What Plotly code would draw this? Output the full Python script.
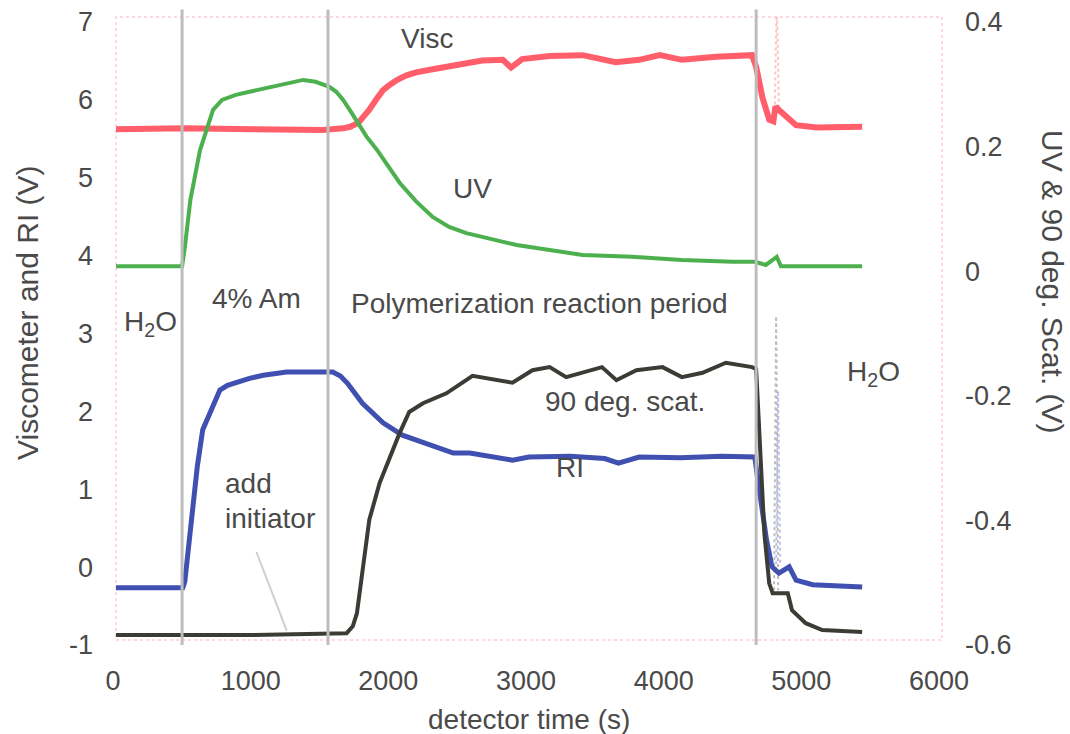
import plotly.graph_objects as go

# ---- data (detector time in s) ----
# Viscometer signal, left axis (V)
visc_t = [0, 500, 1000, 1500, 1650, 1700, 1760, 1800, 1840, 1890, 1940, 1990, 2040, 2110, 2180,
          2300, 2420, 2540, 2660, 2810, 2870, 2950, 3150, 3390, 3630, 3800, 3950, 4110, 4360,
          4620, 4650, 4695, 4745, 4775, 4790, 4820, 4870, 4940, 5090, 5420]
visc_v = [5.56, 5.57, 5.56, 5.55, 5.57, 5.59, 5.64, 5.72, 5.81, 5.94, 6.06, 6.13, 6.19, 6.25,
          6.29, 6.33, 6.37, 6.41, 6.44, 6.45, 6.35, 6.46, 6.50, 6.51, 6.42, 6.45, 6.51, 6.45,
          6.49, 6.51, 6.36, 5.97, 5.68, 5.66, 5.85, 5.80, 5.72, 5.61, 5.58, 5.59]

# Refractive index signal, left axis (V)
ri_t = [0, 485, 500, 520, 560, 590, 630, 680, 755, 810, 880, 970, 1070, 1240, 1430, 1575,
        1630, 1680, 1790, 1940, 2080, 2280, 2450, 2570, 2880, 3000, 3300, 3550, 3650, 3800,
        4100, 4400, 4640, 4660, 4690, 4725, 4765, 4815, 4890, 4940, 5060, 5420]
ri_v = [-0.33, -0.33, -0.25, 0.07, 0.71, 1.22, 1.70, 1.92, 2.21, 2.27, 2.31, 2.36, 2.40, 2.44,
        2.44, 2.44, 2.39, 2.30, 2.04, 1.79, 1.63, 1.51, 1.40, 1.40, 1.31, 1.35, 1.36, 1.33,
        1.27, 1.35, 1.34, 1.36, 1.35, 1.09, 0.71, 0.29, -0.06, -0.14, -0.06, -0.23, -0.29,
        -0.32]

# UV signal, right axis (V)
uv_t = [0, 480, 500, 540, 610, 650, 705, 770, 870, 970, 1210, 1360, 1450, 1550, 1600, 1650,
        1700, 1755, 1820, 1895, 1980, 2060, 2180, 2300, 2420, 2545, 2660, 2910, 3150, 3390,
        3750, 4110, 4480, 4640, 4720, 4800, 4830, 5420]
uv_v = [0.0, 0.0, 0.03, 0.106, 0.186, 0.214, 0.251, 0.267, 0.275, 0.280, 0.291, 0.299, 0.296,
        0.288, 0.280, 0.267, 0.250, 0.230, 0.208, 0.187, 0.160, 0.134, 0.104, 0.079, 0.063,
        0.053, 0.047, 0.034, 0.026, 0.018, 0.015, 0.010, 0.007, 0.007, 0.002, 0.015, 0.0, 0.0]

# 90 degree light scattering signal, right axis (V)
scat_t = [0, 1000, 1675, 1720, 1750, 1790, 1840, 1915, 1990, 2060, 2130, 2230, 2400, 2545,
          2590, 2880, 3025, 3150, 3270, 3530, 3635, 3780, 3970, 4110, 4260, 4430, 4620, 4650,
          4680, 4710, 4745, 4770, 4880, 4910, 5010, 5130, 5420]
scat_v = [-0.592, -0.592, -0.589, -0.578, -0.557, -0.492, -0.407, -0.348, -0.306, -0.268,
          -0.234, -0.220, -0.204, -0.183, -0.176, -0.187, -0.167, -0.162, -0.178, -0.162,
          -0.183, -0.167, -0.162, -0.178, -0.171, -0.155, -0.162, -0.165, -0.30, -0.43,
          -0.509, -0.525, -0.525, -0.552, -0.573, -0.584, -0.587]

# short transients while the water flush reaches the detectors
visc_spike_t = [4785, 4800, 4815]
visc_spike_v = [5.80, 7.30, 5.85]
ri_spike_t = [4795, 4810, 4825]
ri_spike_v = [-0.10, 2.20, -0.05]
scat_spike_t = [4780, 4795, 4810]
scat_spike_v = [-0.52, -0.08, -0.52]

# event markers (s)
event_t = [480, 1540, 4650]

x_ticks = [0, 1000, 2000, 3000, 4000, 5000, 6000]
y_ticks = [-1, 0, 1, 2, 3, 4, 5, 6, 7]
y2_ticks = [-0.6, -0.4, -0.2, 0, 0.2, 0.4]
y2_tick_text = ["-0.6", "-0.4", "-0.2", "0", "0.2", "0.4"]

FONT = "Liberation Sans, Arial, Helvetica, sans-serif"
TXT = "#4a4a4a"
FS_TICK = 27
FS = 28
FS_AXT = 30

fig = go.Figure()

# faint transients drawn first
fig.add_trace(go.Scatter(x=visc_spike_t, y=visc_spike_v, mode="lines",
                         line=dict(color="rgba(255,120,130,0.45)", width=2, dash="dot"),
                         showlegend=False, hoverinfo="skip"))
fig.add_trace(go.Scatter(x=ri_spike_t, y=ri_spike_v, mode="lines",
                         line=dict(color="rgba(110,125,210,0.45)", width=2, dash="dot"),
                         showlegend=False, hoverinfo="skip"))
fig.add_trace(go.Scatter(x=scat_spike_t, y=scat_spike_v, mode="lines", yaxis="y2",
                         line=dict(color="rgba(90,90,90,0.40)", width=2, dash="dot"),
                         showlegend=False, hoverinfo="skip"))

fig.add_trace(go.Scatter(x=visc_t, y=visc_v, mode="lines", name="Visc",
                         line=dict(color="#ff5e6a", width=6)))
fig.add_trace(go.Scatter(x=uv_t, y=uv_v, mode="lines", name="UV", yaxis="y2",
                         line=dict(color="#4cb04e", width=4)))
fig.add_trace(go.Scatter(x=ri_t, y=ri_v, mode="lines", name="RI",
                         line=dict(color="#4050b0", width=5)))
fig.add_trace(go.Scatter(x=scat_t, y=scat_v, mode="lines", name="90 deg. scat.", yaxis="y2",
                         line=dict(color="#3c3c36", width=4)))

shapes = []
for t in event_t:
    shapes.append(dict(type="line", xref="x", yref="paper", x0=t, x1=t, y0=-0.008, y1=1.012,
                       line=dict(color="#bdbdbd", width=3), layer="above"))
# dotted plot frame
shapes.append(dict(type="rect", xref="paper", yref="paper", x0=0, x1=1, y0=0, y1=1,
                   line=dict(color="#ffd6e4", width=2, dash="dot"), layer="below"))
# pointer for the initiator addition
shapes.append(dict(type="line", xref="x", yref="y", x0=1020, y0=0.13, x1=1240, y1=-0.88,
                   line=dict(color="#cfcfcf", width=2)))

def label(x, y, text, xanchor="center"):
    return dict(x=x, y=y, xref="x", yref="y", text=text, showarrow=False,
                xanchor=xanchor, yanchor="middle", font=dict(family=FONT, size=FS, color=TXT))

def paper_label(x, y, text, angle=0, size=FS):
    return dict(x=x, y=y, xref="paper", yref="paper", text=text, showarrow=False,
                xanchor="center", yanchor="middle", textangle=angle,
                font=dict(family=FONT, size=size, color=TXT))

annotations = [
    label(2260, 6.72, "Visc"),
    label(2590, 4.80, "UV"),
    label(1020, 3.38, "4% Am"),
    label(3073, 3.32, "Polymerization reaction period"),
    label(250, 3.06, "H<sub>2</sub>O"),
    label(5500, 2.42, "H<sub>2</sub>O"),
    label(3700, 2.06, "90 deg. scat."),
    label(3300, 1.21, "RI"),
    label(775, 1.01, "add", xanchor="left"),
    label(775, 0.56, "initiator", xanchor="left"),
    paper_label(-0.1065, 0.525, "Viscometer and RI (V)", -90, FS_AXT),
    paper_label(1.134, 0.575, "UV & 90 deg. Scat. (V)", 90, FS_AXT),
    paper_label(0.5, -0.128, "detector time (s)"),
]

fig.update_layout(
    width=1070, height=734,
    margin=dict(l=116, r=128, t=17, b=94, autoexpand=False),
    paper_bgcolor="white", plot_bgcolor="white",
    showlegend=False,
    font=dict(family=FONT, size=FS_TICK, color=TXT),
    xaxis=dict(range=[0, 6000], tickvals=x_ticks, showgrid=False, zeroline=False,
               showline=False, ticks="", ticklabelstandoff=22, ticklabelshift=-3,
               ticklabeloverflow="allow",
               automargin=False, tickfont=dict(family=FONT, size=FS_TICK, color=TXT)),
    yaxis=dict(range=[-1, 7], tickvals=y_ticks, ticktext=[str(v) for v in y_ticks],
               showgrid=False, zeroline=False, showline=False, ticks="", automargin=False,
               tickfont=dict(family=FONT, size=FS_TICK, color=TXT),
               ticklabelstandoff=22, ticklabelshift=5, ticklabeloverflow="allow"),
    yaxis2=dict(range=[-0.6, 0.4], tickvals=y2_ticks, ticktext=y2_tick_text,
                overlaying="y", side="right", showgrid=False, zeroline=False,
                showline=False, ticks="", ticklabelstandoff=22, ticklabelshift=5,
                ticklabeloverflow="allow",
                automargin=False, tickfont=dict(family=FONT, size=FS_TICK, color=TXT)),
    shapes=shapes,
    annotations=annotations,
)

fig.write_html("out.html")
